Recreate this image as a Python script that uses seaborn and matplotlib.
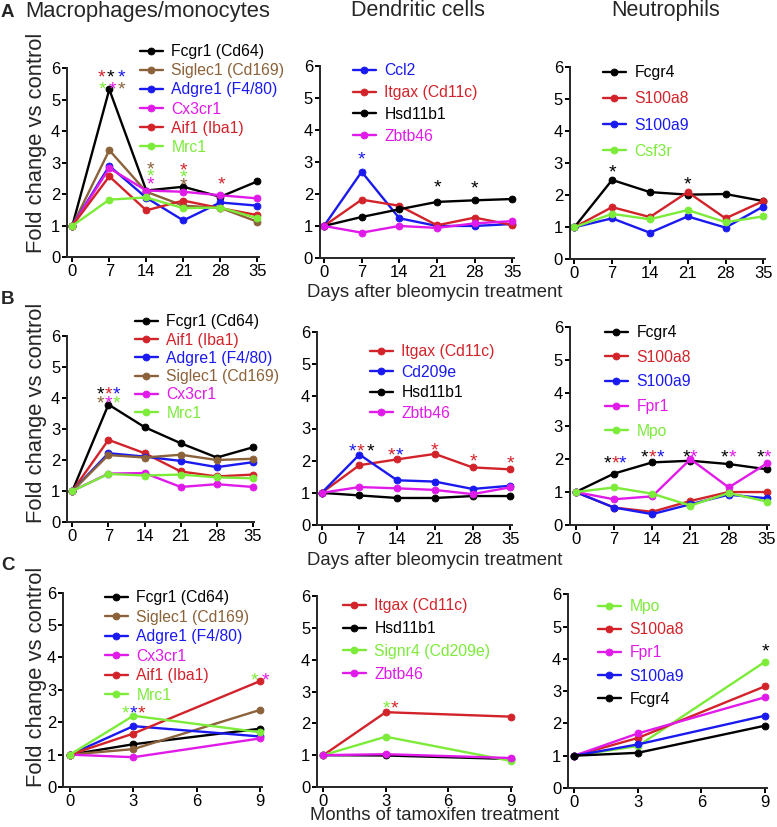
import numpy as np
import pandas as pd
import matplotlib
matplotlib.use("Agg")
import matplotlib.pyplot as plt
import seaborn as sns

sns.set_style("ticks")
plt.rcParams["font.family"] = ["Liberation Sans", "DejaVu Sans"]

# time points
days = [0, 7, 14, 21, 28, 35]
months = [0, 3, 9]

# colours used for each gene
gene_colors = {
    "Fcgr1 (Cd64)": "#000000", "Siglec1 (Cd169)": "#8B6239", "Adgre1 (F4/80)": "#1A1AF0",
    "Cx3cr1": "#E01AE8", "Aif1 (Iba1)": "#D2232A", "Mrc1": "#7CEB3A",
    "Ccl2": "#1A1AF0", "Itgax (Cd11c)": "#D2232A", "Hsd11b1": "#000000", "Zbtb46": "#E01AE8",
    "Cd209e": "#1A1AF0", "Signr4 (Cd209e)": "#7CEB3A",
    "Fcgr4": "#000000", "S100a8": "#D2232A", "S100a9": "#1A1AF0", "Csf3r": "#7CEB3A",
    "Fpr1": "#E01AE8", "Mpo": "#7CEB3A",
}

# ---- Panel A: bleomycin, fold change vs control ----
a_mac_genes = ["Fcgr1 (Cd64)", "Siglec1 (Cd169)", "Adgre1 (F4/80)", "Cx3cr1", "Aif1 (Iba1)", "Mrc1"]
a_mac_vals = [
    [1, 5.33, 2.12, 2.24, 1.92, 2.41],
    [1, 3.40, 2.08, 1.64, 1.57, 1.13],
    [1, 2.90, 1.89, 1.17, 1.74, 1.64],
    [1, 2.83, 2.12, 2.08, 1.97, 1.87],
    [1, 2.57, 1.49, 1.80, 1.56, 1.34],
    [1, 1.83, 1.90, 1.56, 1.58, 1.24],
]
a_mac_stars = [(7, 5.89, -8, "Aif1 (Iba1)"), (7, 5.89, 1.5, "Fcgr1 (Cd64)"), (7, 5.89, 12, "Adgre1 (F4/80)"),
               (7, 5.53, -7, "Mrc1"), (7, 5.53, 3, "Cx3cr1"), (7, 5.53, 12, "Siglec1 (Cd169)"),
               (14, 2.98, 4, "Siglec1 (Cd169)"), (14, 2.74, 4, "Mrc1"), (14, 2.51, 4, "Cx3cr1"),
               (21, 2.95, 0, "Aif1 (Iba1)"), (21, 2.72, 0, "Mrc1"), (21, 2.48, 0, "Siglec1 (Cd169)"),
               (28, 2.51, 1, "Aif1 (Iba1)")]

a_dc_genes = ["Ccl2", "Itgax (Cd11c)", "Hsd11b1", "Zbtb46"]
a_dc_vals = [
    [1, 2.69, 1.24, 1.00, 1.00, 1.06],
    [1, 1.82, 1.63, 1.02, 1.26, 1.03],
    [1, 1.28, 1.52, 1.75, 1.80, 1.84],
    [1, 0.79, 1.00, 0.94, 1.08, 1.15],
]
a_dc_stars = [(7, 3.27, 0, "Ccl2"), (21, 2.38, 0, "Hsd11b1"), (28, 2.36, 0, "Hsd11b1")]

a_neu_genes = ["Fcgr4", "S100a8", "S100a9", "Csf3r"]
a_neu_vals = [
    [1, 2.48, 2.10, 2.02, 2.04, 1.82],
    [1, 1.63, 1.32, 2.10, 1.28, 1.82],
    [1, 1.28, 0.83, 1.34, 0.99, 1.65],
    [1, 1.42, 1.25, 1.54, 1.16, 1.34],
]
a_neu_stars = [(7, 2.90, 0, "Fcgr4"), (21, 2.53, 0, "Fcgr4")]

# ---- Panel B: bleomycin, second model ----
b_mac_genes = ["Fcgr1 (Cd64)", "Aif1 (Iba1)", "Adgre1 (F4/80)", "Siglec1 (Cd169)", "Cx3cr1", "Mrc1"]
b_mac_vals = [
    [1, 3.79, 3.06, 2.54, 2.08, 2.41],
    [1, 2.65, 2.22, 1.63, 1.47, 1.53],
    [1, 2.22, 2.11, 1.97, 1.77, 1.93],
    [1, 2.16, 2.08, 2.17, 2.00, 2.04],
    [1, 1.56, 1.58, 1.13, 1.22, 1.13],
    [1, 1.55, 1.50, 1.53, 1.44, 1.41],
]
b_mac_stars = [(7, 4.31, -7.7, "Fcgr1 (Cd64)"), (7, 4.31, 0, "Aif1 (Iba1)"), (7, 4.31, 8, "Adgre1 (F4/80)"),
               (7, 4.01, -7.7, "Siglec1 (Cd169)"), (7, 4.01, 0, "Cx3cr1"), (7, 4.01, 8, "Mrc1")]

b_dc_genes = ["Itgax (Cd11c)", "Cd209e", "Hsd11b1", "Zbtb46"]
b_dc_vals = [
    [1, 1.86, 2.04, 2.21, 1.79, 1.73],
    [1, 2.19, 1.39, 1.35, 1.12, 1.22],
    [1, 0.92, 0.84, 0.84, 0.90, 0.90],
    [1, 1.18, 1.14, 1.09, 0.96, 1.17],
]
b_dc_stars = [(7, 2.48, -7, "Cd209e"), (7, 2.48, 1.3, "Itgax (Cd11c)"), (7, 2.48, 10.7, "Hsd11b1"),
              (14, 2.33, -5.7, "Itgax (Cd11c)"), (14, 2.33, 2, "Cd209e"),
              (21, 2.51, 0, "Itgax (Cd11c)"), (28, 2.17, 1, "Itgax (Cd11c)"), (35, 2.10, 0, "Itgax (Cd11c)")]

b_neu_genes = ["Fcgr4", "S100a8", "S100a9", "Fpr1", "Mpo"]
b_neu_vals = [
    [1, 1.56, 1.90, 1.95, 1.85, 1.69],
    [1, 0.53, 0.40, 0.73, 1.00, 1.00],
    [1, 0.53, 0.33, 0.63, 0.92, 0.81],
    [1, 0.78, 0.87, 2.00, 1.14, 1.87],
    [1, 1.14, 0.95, 0.59, 0.97, 0.71],
]
b_neu_stars = [(7, 2.04, -6.7, "Fcgr4"), (7, 2.04, 1.3, "S100a8"), (7, 2.04, 8.3, "S100a9"),
               (14, 2.22, -7.3, "Fcgr4"), (14, 2.22, 0.3, "S100a8"), (14, 2.22, 8.3, "S100a9"),
               (21, 2.22, -4, "Fcgr4"), (21, 2.22, 2.7, "Fpr1"),
               (28, 2.22, -4.3, "Fcgr4"), (28, 2.22, 3.3, "Fpr1"),
               (35, 2.22, -6.3, "Fcgr4"), (35, 2.22, 0.3, "Fpr1")]

# ---- Panel C: tamoxifen ----
c_mac_genes = ["Fcgr1 (Cd64)", "Siglec1 (Cd169)", "Adgre1 (F4/80)", "Cx3cr1", "Aif1 (Iba1)", "Mrc1"]
c_mac_vals = [
    [1, 1.32, 1.80],
    [1, 1.17, 2.38],
    [1, 1.88, 1.56],
    [1, 0.92, 1.50],
    [1, 1.65, 3.27],
    [1, 2.20, 1.69],
]
c_mac_stars = [(3, 2.45, -8.3, "Mrc1"), (3, 2.45, 0, "Adgre1 (F4/80)"), (3, 2.45, 8.3, "Aif1 (Iba1)"),
               (9, 3.48, -5.7, "Mrc1"), (9, 3.48, 5, "Cx3cr1")]

c_dc_genes = ["Itgax (Cd11c)", "Hsd11b1", "Signr4 (Cd209e)", "Zbtb46"]
c_dc_vals = [
    [1, 2.35, 2.21],
    [1, 0.99, 0.88],
    [1, 1.58, 0.82],
    [1, 1.03, 0.91],
]
c_dc_stars = [(3, 2.65, 1, "Signr4 (Cd209e)"), (3, 2.65, 8.7, "Itgax (Cd11c)")]

c_neu_genes = ["Mpo", "S100a8", "Fpr1", "S100a9", "Fcgr4"]
c_neu_vals = [
    [1, 1.30, 3.91],
    [1, 1.55, 3.15],
    [1, 1.69, 2.81],
    [1, 1.35, 2.24],
    [1, 1.09, 1.93],
]
c_neu_stars = [(9, 4.40, 0, "Fcgr4")]

W, H = 777, 827
fig = plt.figure(figsize=(W / 100, H / 100), dpi=100)

FS_TICK = 12
FS_LEG = 11.3
FS_STAR = 14


def draw_panel(x, genes, vals, stars, layout, leg):
    # layout in pixels: y-spine x, x of first tick, x of last tick, y of 0, y of 6
    xs, x0, xl, yz, y6 = layout
    last = x[-1]
    scale = (xl - x0) / last
    right = xl + 1.5
    ax = fig.add_axes([xs / W, 1 - yz / H, (right - xs) / W, (yz - y6) / H])

    df = pd.DataFrame({
        "time": np.tile(x, len(genes)),
        "fold": np.concatenate(vals),
        "gene": np.repeat(genes, len(x)),
    })
    sns.lineplot(data=df, x="time", y="fold", hue="gene", hue_order=genes,
                 palette=[gene_colors[g] for g in genes], marker="o", markersize=5,
                 linewidth=1.7, legend=False, ax=ax)
    for ln in ax.lines:
        ln.set_markeredgecolor(ln.get_color())
        ln.set_markeredgewidth(0.6)
        ln.set_clip_on(False)

    ax.set_xlim((xs - x0) / scale, (right - x0) / scale)
    ax.set_ylim(0, 6)
    ax.set_xticks(x if last == 35 else [0, 3, 6, 9])
    ax.set_yticks(range(7))
    ax.set_xlabel("")
    ax.set_ylabel("")
    sns.despine(ax=ax)
    for s in ["left", "bottom"]:
        ax.spines[s].set_linewidth(1.4)
    ax.tick_params(length=3.8, width=1.4, labelsize=FS_TICK, pad=1.2, colors="black")

    # significance asterisks
    for t, lev, dx, g in stars:
        ax.annotate("*", (t, lev), xytext=(dx * 0.72, -0.56 * FS_STAR), textcoords="offset points",
                    ha="center", va="baseline", fontsize=FS_STAR, color=gene_colors[g],
                    annotation_clip=False)

    # legend
    lx, ly_first, ly_last = leg
    n = len(genes)
    fs_px = FS_LEG * 100 / 72
    spacing = (ly_last - ly_first) / (n - 1)
    ls = (spacing - 0.95 * fs_px) / fs_px
    handles = ax.lines[:n]
    ax.legend(handles, genes, loc="center left",
              bbox_to_anchor=(lx / W, 1 - (ly_first + ly_last) / 2 / H),
              bbox_transform=fig.transFigure, frameon=False, fontsize=FS_LEG,
              handlelength=1.45, handletextpad=0.55, borderpad=0, borderaxespad=0,
              labelspacing=ls, labelcolor="linecolor")
    return ax


draw_panel(days, a_mac_genes, a_mac_vals, a_mac_stars, (67.3, 72.3, 257.3, 257.3, 68.3), (140, 52, 147))
draw_panel(days, a_dc_genes, a_dc_vals, a_dc_stars, (320, 324, 512.3, 258, 65.7), (353, 71, 136))
draw_panel(days, a_neu_genes, a_neu_vals, a_neu_stars, (570, 574.3, 763.3, 259.3, 67.3), (603, 73, 151))

draw_panel(days, b_mac_genes, b_mac_vals, b_mac_stars, (67.3, 72.3, 253, 522, 336), (135, 322, 413))
draw_panel(days, b_dc_genes, b_dc_vals, b_dc_stars, (317.3, 321.7, 510.3, 525, 332), (370, 352, 413))
draw_panel(days, b_neu_genes, b_neu_vals, b_neu_stars, (570, 575.7, 767, 525, 327.3), (605, 333, 431))

draw_panel(months, c_mac_genes, c_mac_vals, c_mac_stars, (63.3, 70, 260, 787, 592.7), (105, 598, 695))
draw_panel(months, c_dc_genes, c_dc_vals, c_dc_stars, (317.3, 323.3, 510.7, 787, 596), (343, 606, 674))
draw_panel(months, c_neu_genes, c_neu_vals, c_neu_stars, (568.3, 574.3, 765, 788, 594.3), (598, 607, 699))

# titles, panel letters, axis labels
fig.text(25 / W, 1 - 17 / H, "Macrophages/monocytes", fontsize=15.8, va="baseline", ha="left")
fig.text(418 / W, 1 - 16 / H, "Dendritic cells", fontsize=15.5, va="baseline", ha="center")
fig.text(666 / W, 1 - 16 / H, "Neutrophils", fontsize=15.5, va="baseline", ha="center")

for letter, yb in [("A", 17), ("B", 304), ("C", 570)]:
    fig.text(1 / W, 1 - yb / H, letter, fontsize=13.5, fontweight="bold", va="baseline", ha="left")

for yc in [143, 413, 677]:
    fig.text(37 / W, 1 - yc / H, "Fold change vs control", fontsize=15.8, rotation=90,
             va="center", ha="center")

fig.text(307 / W, 1 - 297 / H, "Days after bleomycin treatment", fontsize=13.3, va="baseline")
fig.text(307 / W, 1 - 565 / H, "Days after bleomycin treatment", fontsize=13.3, va="baseline")
fig.text(310 / W, 1 - 820 / H, "Months of tamoxifen treatment", fontsize=13.3, va="baseline")

fig.savefig("out.png", dpi=100)
